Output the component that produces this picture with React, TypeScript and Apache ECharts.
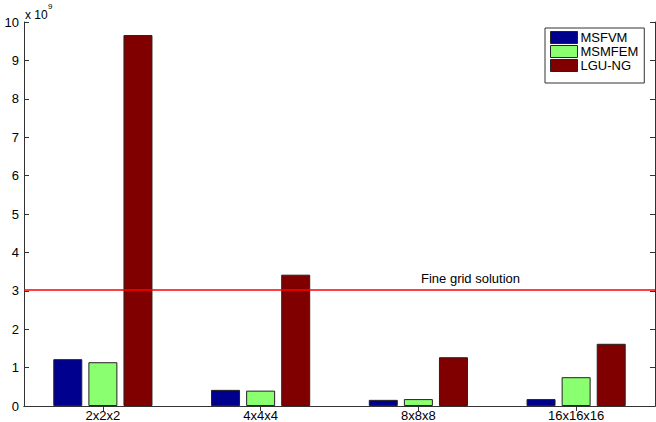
import React, { useEffect, useRef } from "react";
import * as echarts from "echarts";

// Grid resolutions on the horizontal axis
const categories = ["2x2x2", "4x4x4", "8x8x8", "16x16x16"];
// Values per method (raw units; the axis shows them scaled by 10^9)
const msfvm = [1.22e9, 0.42e9, 0.16e9, 0.18e9];
const msmfem = [1.14e9, 0.4e9, 0.18e9, 0.75e9];
const lguNg = [9.66e9, 3.42e9, 1.27e9, 1.62e9];
// Reference level of the fine-grid solution
const fineGrid = 3.04e9;
const yTicks = [0, 1, 2, 3, 4, 5, 6, 7, 8, 9, 10];

const FONT = "'Liberation Sans', Arial, Helvetica, sans-serif";
const AXIS = "#333";
const FS = 13;

export default function App() {
  const ref = useRef<HTMLDivElement>(null);

  useEffect(() => {
    document.body.style.margin = "0";
    const chart = echarts.init(ref.current!, null, { renderer: "svg" });
    const scale = 1e9;
    const tickStyle = { show: true, inside: true, length: 5, lineStyle: { color: AXIS } };
    const barBase = {
      type: "bar" as const,
      barWidth: 29,
      barGap: "21%",
      itemStyle: { borderColor: "#222", borderWidth: 1 },
    };
    chart.setOption({
      animation: false,
      backgroundColor: "#fff",
      textStyle: { fontFamily: FONT },
      grid: { left: 24, right: 1, top: 22, bottom: 13, containLabel: false },
      legend: {
        orient: "vertical",
        left: 545,
        top: 28,
        padding: [3, 6, 11, 5],
        itemGap: 1,
        itemWidth: 27,
        itemHeight: 12,
        borderColor: "#333",
        borderWidth: 1,
        backgroundColor: "#fff",
        textStyle: { fontSize: FS, color: "#000", fontFamily: FONT, padding: [0, 0, 0, -2] },
        icon: "rect",
        itemStyle: { borderColor: "#222", borderWidth: 1 },
        data: ["MSFVM", "MSMFEM", "LGU-NG"],
      },
      xAxis: [
        {
          type: "category",
          data: categories,
          position: "bottom",
          axisLine: { lineStyle: { color: AXIS, width: 1 } },
          axisTick: { ...tickStyle, alignWithLabel: true },
          axisLabel: { color: "#000", fontSize: FS, margin: 3, fontFamily: FONT },
        },
        {
          type: "category",
          data: categories,
          position: "top",
          axisLine: { show: true, lineStyle: { color: AXIS, width: 1 } },
          axisTick: { ...tickStyle, alignWithLabel: true },
          axisLabel: { show: false },
        },
      ],
      yAxis: [
        {
          type: "value",
          min: 0,
          max: yTicks[yTicks.length - 1] * scale,
          interval: scale,
          position: "left",
          splitLine: { show: false },
          axisLine: { show: true, lineStyle: { color: AXIS, width: 1 } },
          axisTick: tickStyle,
          axisLabel: {
            color: "#000",
            fontSize: FS,
            margin: 5,
            fontFamily: FONT,
            formatter: (v: number) => String(Math.round(v / scale)),
          },
        },
        {
          type: "value",
          min: 0,
          max: yTicks[yTicks.length - 1] * scale,
          interval: scale,
          position: "right",
          splitLine: { show: false },
          axisLine: { show: true, lineStyle: { color: AXIS, width: 1 } },
          axisTick: tickStyle,
          axisLabel: { show: false },
        },
      ],
      series: [
        {
          ...barBase,
          name: "MSFVM",
          data: msfvm,
          itemStyle: { ...barBase.itemStyle, color: "#00008f" },
          markLine: {
            silent: true,
            symbol: "none",
            lineStyle: { color: "#ff0000", width: 1.5, type: "solid" },
            label: { show: false },
            data: [{ yAxis: fineGrid }],
          },
        },
        { ...barBase, name: "MSMFEM", data: msmfem, itemStyle: { ...barBase.itemStyle, color: "#8aff70" } },
        { ...barBase, name: "LGU-NG", data: lguNg, itemStyle: { ...barBase.itemStyle, color: "#800000" } },
      ],
      graphic: [
        {
          type: "text",
          left: 421,
          top: 272,
          style: { text: "Fine grid solution", fontSize: FS, fill: "#000", fontFamily: FONT },
        },
        // axis multiplier "x 10^9"
        {
          type: "text",
          left: 25,
          top: 9,
          style: { text: "x 10", fontSize: 12, fill: "#000", fontFamily: FONT },
        },
        {
          type: "text",
          left: 48,
          top: 2,
          style: { text: "9", fontSize: 8, fill: "#000", fontFamily: FONT },
        },
      ],
    });
    return () => chart.dispose();
  }, []);

  return <div ref={ref} style={{ width: 656, height: 422 }} />;
}
